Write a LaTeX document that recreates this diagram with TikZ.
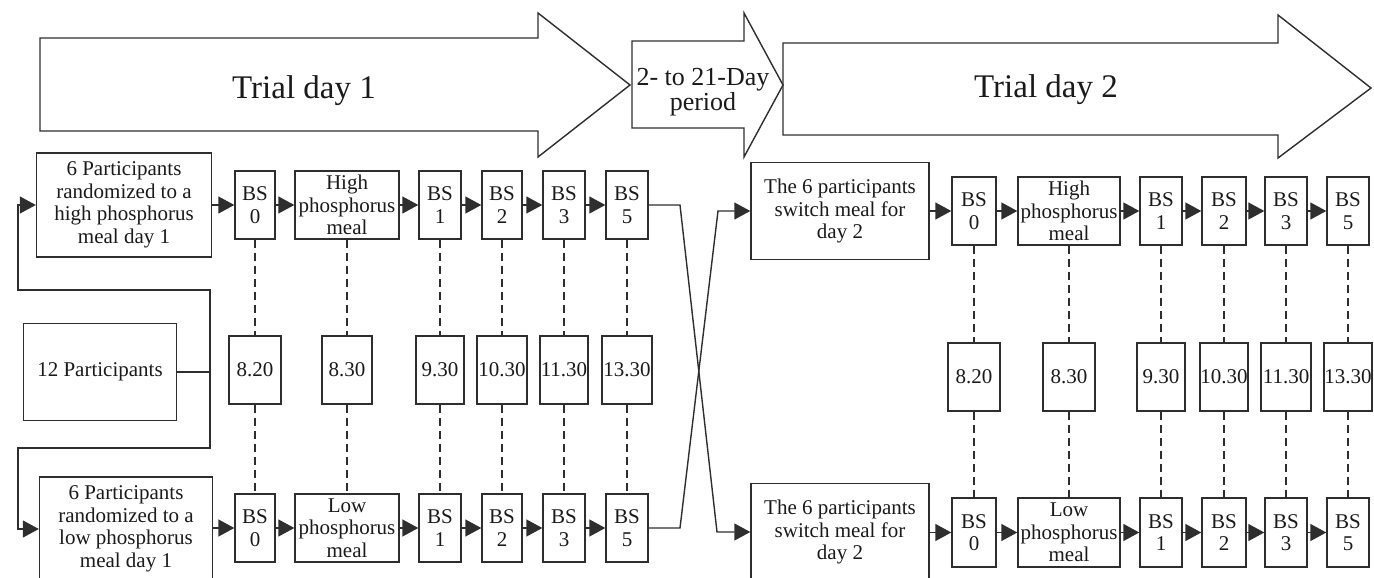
\documentclass[tikz,border=0pt]{standalone}
\usepackage{fontspec}
\setmainfont{Liberation Serif}
\usetikzlibrary{arrows.meta}
\definecolor{linec}{HTML}{2E2E2E}
\definecolor{textc}{HTML}{1A1A1A}
\newcommand\boxfont{\fontsize{21}{22.5}\selectfont}
\newcommand\bigfont{\fontsize{33}{38}\selectfont}
\newcommand\midfont{\fontsize{26}{22.5}\selectfont}
\tikzset{
  box/.style={draw=linec, line width=1.4pt, rectangle, inner sep=0pt,
    align=center, font=\boxfont, text=textc},
  bs/.style={box, minimum width=42pt, minimum height=68pt},
  meal/.style={box, minimum width=102pt, minimum height=68pt},
  tm/.style={box, minimum height=68pt},
  arr/.style={draw=linec, line width=1.4pt,
    -{Triangle[length=16pt,width=17pt]}},
  conn/.style={draw=linec, line width=1.4pt},
  dsh/.style={draw=linec, line width=1.4pt, dash pattern=on 8pt off 5pt},
  bigarrow/.style={draw=linec, line width=1.4pt, line join=miter},
  lbl/.style={text=textc, inner sep=0pt, align=center}
}
\begin{document}
\begin{tikzpicture}[x=1pt,y=-1pt]
\path[use as bounding box] (0,0) rectangle (1374,578);
\clip (0,0) rectangle (1374,578);

% ---- phase arrows across the top ----
\draw[bigarrow] (40,38) -- (538,38) -- (538,13) -- (630,85) -- (538,157)
  -- (538,131) -- (40,131) -- cycle;
\draw[bigarrow] (632,41) -- (744,41) -- (744,13) -- (783,85) -- (744,157)
  -- (744,128) -- (632,128) -- cycle;
\draw[bigarrow] (783,43) -- (1278,43) -- (1278,15) -- (1371,88) -- (1278,158)
  -- (1278,135) -- (783,135) -- cycle;
\node[lbl, font=\bigfont, anchor=base] (day1) at (304,99) {Trial day 1};
\node[lbl, font=\midfont] (gap) at (703,92) {2- to 21-Day\\period};
\node[lbl, font=\bigfont, anchor=base] (day2) at (1046,98) {Trial day 2};

% ---- day 1: allocation ----
\node[box, minimum width=153pt, minimum height=97pt] (all) at (100,372) {12 Participants};
\node[box, minimum width=175pt, minimum height=104pt] (hi) at (124,205)
  {6 Participants\\randomized to a\\high phosphorus\\meal day 1};
\node[box, minimum width=173pt, minimum height=104pt] (lo) at (126,529)
  {6 Participants\\randomized to a\\low phosphorus\\meal day 1};

\coordinate (jn) at (210,372);
\coordinate (jt) at (210,290);
\coordinate (lt) at (18,290);
\coordinate (jb) at (210,448);
\coordinate (lb) at (18,448);
\draw[conn] (all.east) -- (jn);
\draw[arr] (jn) -- (jt) -- (lt) |- (hi.west);
\draw[arr] (jn) -- (jb) -- (lb) |- (lo.west);

% ---- day 1: high phosphorus row ----
\node[bs, minimum width=40pt] (h0) at (255,205) {BS\\0};
\node[meal, minimum width=104pt] (hm) at (347,205) {High\\phosphorus\\meal};
\node[bs] (h1) at (440,205) {BS\\1};
\node[bs, minimum width=40pt] (h2) at (502,205) {BS\\2};
\node[bs] (h3) at (564,205) {BS\\3};
\node[bs] (h5) at (627,205) {BS\\5};

% ---- day 1: sampling times ----
\node[tm, minimum width=52pt] (c0) at (255,370) {8.20};
\node[tm, minimum width=50pt] (cm) at (347,370) {8.30};
\node[tm, minimum width=48pt] (c1) at (440,370) {9.30};
\node[tm, minimum width=50pt] (c2) at (502,370) {10.30};
\node[tm, minimum width=48pt] (c3) at (564,370) {11.30};
\node[tm, minimum width=50pt] (c5) at (627,370) {13.30};

% ---- day 1: low phosphorus row ----
\node[bs, minimum width=40pt] (l0) at (255,528) {BS\\0};
\node[meal, minimum width=104pt] (lm) at (347,528) {Low\\phosphorus\\meal};
\node[bs] (l1) at (440,528) {BS\\1};
\node[bs, minimum width=40pt] (l2) at (502,528) {BS\\2};
\node[bs] (l3) at (564,528) {BS\\3};
\node[bs] (l5) at (627,528) {BS\\5};

\draw[arr] (hi.east |- h0.west) -- (h0.west);
\draw[arr] (h0.east) -- (hm.west);
\draw[arr] (hm.east) -- (h1.west);
\draw[arr] (h1.east) -- (h2.west);
\draw[arr] (h2.east) -- (h3.west);
\draw[arr] (h3.east) -- (h5.west);

\draw[arr] (lo.east |- l0.west) -- (l0.west);
\draw[arr] (l0.east) -- (lm.west);
\draw[arr] (lm.east) -- (l1.west);
\draw[arr] (l1.east) -- (l2.west);
\draw[arr] (l2.east) -- (l3.west);
\draw[arr] (l3.east) -- (l5.west);

\foreach \a/\b/\c in {h0/c0/l0, hm/cm/lm, h1/c1/l1, h2/c2/l2, h3/c3/l3, h5/c5/l5}{
  \draw[dsh] (\a.south) -- (\b.north);
  \draw[dsh] (\b.south) -- (\c.north);
}

% ---- day 2: crossover ----
\node[box, minimum width=178pt, minimum height=97pt] (sw1) at (840,211)
  {The 6 participants\\switch meal for\\day 2};
\node[box, minimum width=178pt, minimum height=97pt] (sw2) at (840,532)
  {The 6 participants\\switch meal for\\day 2};

\coordinate (xa) at (680,205);
\coordinate (xb) at (717,532);
\coordinate (xc) at (680,528);
\coordinate (xd) at (718,211);
\draw[arr] (h5.east) -- (xa) -- (xb) -- (sw2.west);
\draw[arr] (l5.east) -- (xc) -- (xd) -- (sw1.west);

% ---- day 2: upper row ----
\node[bs, minimum width=44pt] (p0) at (974,211) {BS\\0};
\node[meal] (pm) at (1069,211) {High\\phosphorus\\meal};
\node[bs] (p1) at (1161,211) {BS\\1};
\node[bs, minimum width=44pt] (p2) at (1224,211) {BS\\2};
\node[bs] (p3) at (1286,211) {BS\\3};
\node[bs] (p5) at (1348,211) {BS\\5};

% ---- day 2: sampling times ----
\node[tm, minimum width=52pt] (d0) at (974,377) {8.20};
\node[tm, minimum width=52pt] (dm) at (1069,377) {8.30};
\node[tm, minimum width=48pt] (d1) at (1161,377) {9.30};
\node[tm, minimum width=48pt] (d2) at (1224,377) {10.30};
\node[tm, minimum width=50pt] (d3) at (1286,377) {11.30};
\node[tm, minimum width=48pt] (d5) at (1348,377) {13.30};

% ---- day 2: lower row ----
\node[bs, minimum width=44pt, minimum height=69pt] (q0) at (974,532.5) {BS\\0};
\node[meal, minimum height=69pt] (qm) at (1069,532.5) {Low\\phosphorus\\meal};
\node[bs, minimum height=69pt] (q1) at (1161,532.5) {BS\\1};
\node[bs, minimum width=44pt, minimum height=69pt] (q2) at (1224,532.5) {BS\\2};
\node[bs, minimum height=69pt] (q3) at (1286,532.5) {BS\\3};
\node[bs, minimum height=69pt] (q5) at (1348,532.5) {BS\\5};

\draw[arr] (sw1.east |- p0.west) -- (p0.west);
\draw[arr] (p0.east) -- (pm.west);
\draw[arr] (pm.east) -- (p1.west);
\draw[arr] (p1.east) -- (p2.west);
\draw[arr] (p2.east) -- (p3.west);
\draw[arr] (p3.east) -- (p5.west);

\draw[arr] (sw2.east |- q0.west) -- (q0.west);
\draw[arr] (q0.east) -- (qm.west);
\draw[arr] (qm.east) -- (q1.west);
\draw[arr] (q1.east) -- (q2.west);
\draw[arr] (q2.east) -- (q3.west);
\draw[arr] (q3.east) -- (q5.west);

\foreach \a/\b/\c in {p0/d0/q0, pm/dm/qm, p1/d1/q1, p2/d2/q2, p3/d3/q3, p5/d5/q5}{
  \draw[dsh] (\a.south) -- (\b.north);
  \draw[dsh] (\b.south) -- (\c.north);
}
\end{tikzpicture}
\end{document}
